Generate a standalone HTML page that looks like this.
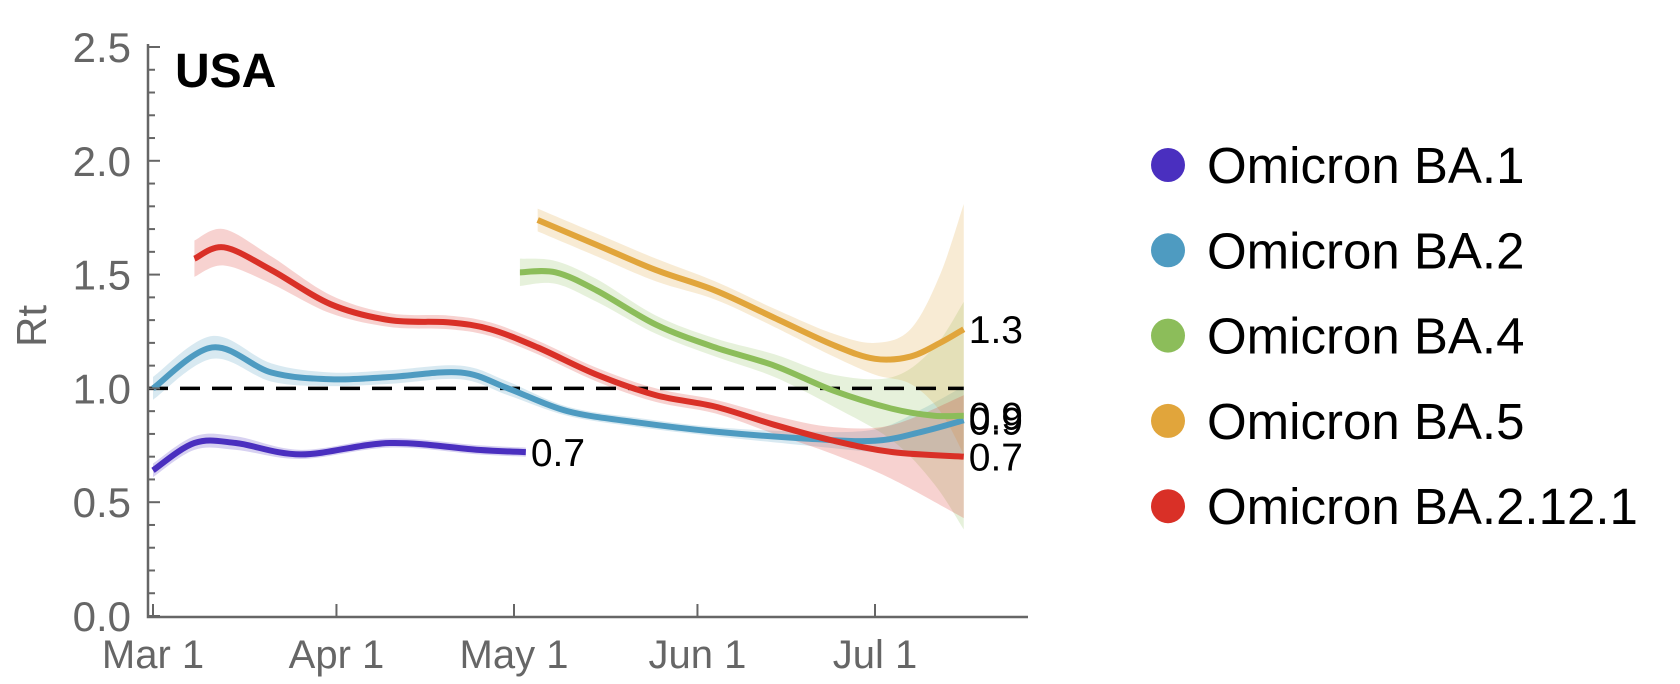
<!DOCTYPE html>
<html><head><meta charset="utf-8"><style>
html,body{margin:0;padding:0;background:#fff;width:1680px;height:684px;overflow:hidden}
svg{display:block;font-family:"Liberation Sans",sans-serif}
</style></head><body>
<svg id="chart" width="1680" height="684">
<g id="bands"></g>
<g id="lines"></g>
<g id="axes"></g>
<g id="legend"></g>
</svg>
<script>
const yTicks=[0,0.5,1.0,1.5,2.0,2.5];
const xTickLabels=["Mar 1","Apr 1","May 1","Jun 1","Jul 1"];
const xTickDays=[0,31,61,92,122];
const seriesNames=["Omicron BA.1","Omicron BA.2","Omicron BA.4","Omicron BA.5","Omicron BA.2.12.1"];
const seriesColors=["#4a2fbf","#4e9bc1","#8cbd5a","#e1a53b","#d93027"];
const ba1Days=[0,7,14,25,40,55,63];
const ba1Vals=[0.64,0.76,0.76,0.71,0.76,0.73,0.72];
const ba1Err=[0.03,0.03,0.03,0.02,0.02,0.02,0.02];
const ba2Days=[0,10,20,30,40,52,60,70,82,95,110,122,130,137];
const ba2Vals=[1.0,1.18,1.07,1.04,1.05,1.07,1.0,0.9,0.85,0.81,0.78,0.77,0.81,0.86];
const ba2Err=[0.05,0.05,0.04,0.03,0.03,0.03,0.03,0.02,0.02,0.02,0.03,0.05,0.1,0.15];
const ba4Days=[62,68,75,85,95,105,115,125,132,137];
const ba4Vals=[1.51,1.51,1.43,1.28,1.18,1.10,0.99,0.91,0.88,0.88];
const ba4Err=[0.06,0.05,0.05,0.04,0.04,0.05,0.07,0.14,0.3,0.5];
const ba5Days=[65,75,85,95,105,115,122,128,133,137];
const ba5Vals=[1.74,1.63,1.52,1.43,1.31,1.19,1.13,1.14,1.20,1.26];
const ba5Err=[0.05,0.05,0.05,0.04,0.04,0.05,0.07,0.12,0.3,0.55];
const ba2121Days=[7,12,20,30,40,50,57,65,75,85,95,105,115,125,137];
const ba2121Vals=[1.57,1.62,1.52,1.37,1.30,1.29,1.26,1.18,1.06,0.97,0.92,0.84,0.77,0.72,0.70];
const ba2121Err=[0.08,0.08,0.06,0.04,0.03,0.03,0.03,0.03,0.03,0.03,0.03,0.04,0.06,0.12,0.27];
const endLabels=["0.7","0.9","0.9","1.3","0.7"];

const X0=153,PXD=5.918,Y0=616,PXV=227.6;
const xs=d=>X0+d*PXD, ys=v=>Y0-v*PXV;
const NS="http://www.w3.org/2000/svg";
function mk(t,a,p){const e=document.createElementNS(NS,t);for(const k in a)e.setAttribute(k,a[k]);p.appendChild(e);return e;}
function smooth(pts){
  let d="M"+pts[0][0]+","+pts[0][1];
  for(let i=0;i<pts.length-1;i++){
    const p0=pts[i-1]||pts[i],p1=pts[i],p2=pts[i+1],p3=pts[i+2]||p2;
    const c1=[p1[0]+(p2[0]-p0[0])/6,p1[1]+(p2[1]-p0[1])/6];
    const c2=[p2[0]-(p3[0]-p1[0])/6,p2[1]-(p3[1]-p1[1])/6];
    d+=" C"+c1+" "+c2+" "+p2;
  }
  return d;
}
const series=[[ba1Days,ba1Vals,ba1Err],[ba2Days,ba2Vals,ba2Err],[ba4Days,ba4Vals,ba4Err],[ba5Days,ba5Vals,ba5Err],[ba2121Days,ba2121Vals,ba2121Err]];
const bands=document.getElementById('bands'),lines=document.getElementById('lines'),axes=document.getElementById('axes'),legend=document.getElementById('legend');
series.forEach((s,i)=>{
  const [D,V,E]=s;
  const up=D.map((d,j)=>[xs(d),ys(V[j]+E[j])]);
  const lo=D.map((d,j)=>[xs(d),ys(V[j]-E[j])]).reverse();
  const path=smooth(up)+" L"+lo[0]+" "+smooth(lo).slice(1)+" Z";
  const b=mk('path',{d:path,fill:seriesColors[i],'fill-opacity':0.22,stroke:'none'},bands);
  
  
});
const ref=mk('line',{x1:148,x2:xs(137),y1:ys(1),y2:ys(1),stroke:'#000','stroke-width':3.5,'stroke-dasharray':'20,12'},lines);


series.forEach((s,i)=>{
  const [D,V]=s;
  const pts=D.map((d,j)=>[xs(d),ys(V[j])]);
  const l=mk('path',{d:smooth(pts),fill:'none',stroke:seriesColors[i],'stroke-width':6,'stroke-linecap':'butt'},lines);
  
  
  const last=D.length-1;
  const t=mk('text',{x:xs(D[last])+5,y:ys(V[last])+14,'font-size':39,fill:'#000'},lines);
  t.textContent=endLabels[i];
  
  
});
const ax=mk('path',{d:"M148,44 V617 H1028",fill:'none',stroke:'#666','stroke-width':2.5},axes);


for(let v=0;v<=2.5001;v+=0.1){
  const major=yTicks.some(t=>Math.abs(t-v)<1e-6);
  mk('line',{x1:148,x2:148+(major?12:7),y1:ys(v),y2:ys(v),stroke:'#666','stroke-width':2},axes);
}
yTicks.forEach(v=>{
  const t=mk('text',{x:131,y:ys(v)+15,'font-size':42,fill:'#666','text-anchor':'end'},axes);
  t.textContent=v.toFixed(1);
  
  
});
xTickDays.forEach((d,i)=>{
  mk('line',{x1:xs(d),x2:xs(d),y1:617,y2:604,stroke:'#666','stroke-width':2},axes);
  const t=mk('text',{x:xs(d),y:668,'font-size':40,fill:'#666','text-anchor':'middle'},axes);
  t.textContent=xTickLabels[i];
  
  
});
const yt=mk('text',{x:0,y:0,'font-size':42,fill:'#666','text-anchor':'middle',transform:'translate(46,326) rotate(-90)'},axes);
yt.textContent="Rt";


const ti=mk('text',{x:175,y:87,'font-size':48,'font-weight':'bold',fill:'#000'},axes);
ti.textContent="USA";


seriesNames.forEach((n,i)=>{
  const y=165+i*85.3;
  const c=mk('circle',{cx:1168,cy:y,r:17,fill:seriesColors[i]},legend);
  
  
  const t=mk('text',{x:1207,y:y+18,'font-size':51,fill:'#000'},legend);
  t.textContent=n;
  
  
});
</script>
</body></html>
